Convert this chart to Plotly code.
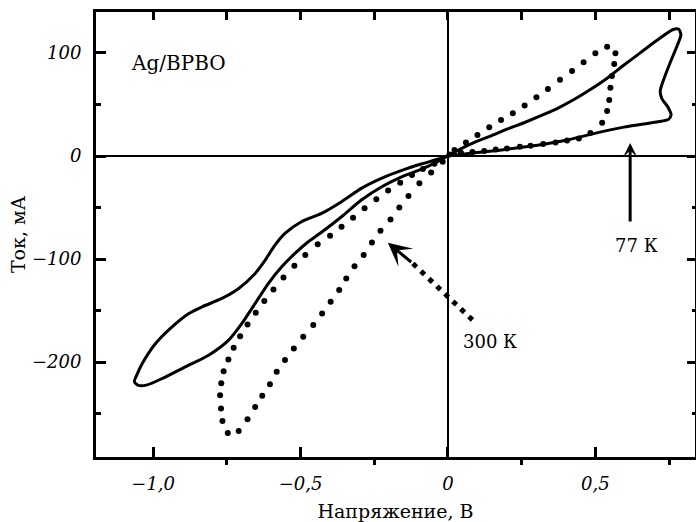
import plotly.graph_objects as go

# ---- 77 K curve (solid loop) ----
v77 = [0, 0.05, 0.10, 0.15, 0.20, 0.25, 0.314, 0.40, 0.483, 0.596, 0.708, 0.748, 0.757, 0.746, 0.725,
       0.72, 0.729, 0.753, 0.776, 0.79, 0.783, 0.762, 0.708, 0.652, 0.596, 0.54, 0.483, 0.426, 0.37,
       0.314, 0.26, 0.20, 0.15, 0.088, 0.04, 0,
       -0.035, -0.091, -0.159, -0.226, -0.294, -0.361, -0.429, -0.474, -0.519, -0.564, -0.609, -0.654,
       -0.699, -0.744, -0.812, -0.891, -0.97, -1.02, -1.05, -1.064, -1.055, -1.037, -0.992, -0.936,
       -0.879, -0.834, -0.767, -0.71, -0.654, -0.62, -0.587, -0.553, -0.497, -0.429, -0.361, -0.294,
       -0.226, -0.159, -0.091, -0.035, 0]
i77 = [0, 1.8, 3.3, 4.8, 6.6, 8.4, 10.9, 15.2, 21, 28, 33, 35.5, 40, 47.5, 56,
       63, 72, 90, 106, 117.5, 123, 122.5, 112, 100, 88, 75.5, 64.5, 54.5, 46,
       39, 32.5, 26, 20, 13, 6.5, 0,
       -5.5, -13, -20.5, -30, -42.7, -58.9, -74, -83.2, -94.5, -107.5, -123.6, -143,
       -162.4, -178.6, -193.2, -204.5, -215.9, -222, -222.5, -219, -212, -201.3, -181.9, -165.7,
       -152.7, -146.3, -138.2, -128.5, -113.9, -101, -86.4, -75, -63.8, -55.7, -44.3, -31.4,
       -21.7, -14.2, -7.8, -3.2, 0]

# ---- 300 K curve (dotted loop, one dot per point) ----
v300 = [0.005, 0.044, 0.083, 0.123, 0.162, 0.20, 0.244, 0.28, 0.323, 0.365, 0.404, 0.444, 0.483,
        0.523, 0.54, 0.547, 0.551, 0.556, 0.564, 0.568, 0.54,
        0.50, 0.46, 0.421, 0.38, 0.339, 0.30, 0.26, 0.22, 0.18, 0.14, 0.10, 0.061, 0.022,
        -0.018, -0.057, -0.097, -0.134, -0.165, -0.195, -0.229, -0.258, -0.286, -0.317, -0.345,
        -0.369, -0.398, -0.427, -0.457, -0.491, -0.523, -0.553, -0.581, -0.604, -0.63, -0.654,
        -0.68, -0.71, -0.747,
        -0.765, -0.77, -0.773, -0.769, -0.761, -0.745, -0.727, -0.705, -0.68, -0.652, -0.623,
        -0.592, -0.558, -0.521, -0.484, -0.442, -0.40, -0.361, -0.322, -0.283, -0.243, -0.203,
        -0.162, -0.122, -0.085, -0.046]
i300 = [1.5, 3.2, 4.0, 4.8, 6.2, 7.4, 9.0, 10.0, 11.7, 13.0, 15.0, 17.0, 22.3,
        32.3, 43.7, 54.4, 66.3, 77.7, 89.3, 99.7, 106,
        99.7, 91, 82.5, 74, 65, 57, 49, 41.4, 35, 28, 20.4, 13, 5.8,
        -5.5, -16, -26.5, -38.8, -50, -61.5, -72.5, -84, -96, -107, -118.8,
        -130, -141.4, -152.7, -164, -175.4, -186.7, -198, -209.4, -221.4, -232.7, -243.4,
        -255.3, -266.7, -268.6,
        -257, -245, -232, -220.5, -208.7, -197.4, -186, -174.8, -163.4, -152, -140.6,
        -129.4, -117.8, -106.5, -96, -85.5, -77.4, -68.6, -59.9, -50.8, -42, -33.5,
        -25.9, -18.4, -12.5, -7.5]

# ---- ticks ----
x_major = [-1.0, -0.5, 0, 0.5]
x_major_text = ["\u22121,0", "\u22120,5", "0", "0,5"]
x_minor = [-0.75, -0.25, 0.25, 0.75]
y_major = [100, 0, -100, -200]
y_major_text = ["100", "0", "\u2212100", "\u2212200"]
y_minor = [50, -50, -150, -250]

x_range = [-1.194, 0.838]
y_range = [-292, 139.7]

FONT = "DejaVu Serif"

fig = go.Figure()
fig.add_trace(go.Scatter(x=v77, y=i77, mode="lines",
                         line=dict(color="black", width=3, shape="spline", smoothing=0.7),
                         showlegend=False, hoverinfo="skip"))
fig.add_trace(go.Scatter(x=v300, y=i300, mode="markers",
                         marker=dict(color="black", size=6),
                         showlegend=False, hoverinfo="skip"))

axis_common = dict(showgrid=False, color="black", linecolor="black", tickcolor="black", automargin=False)

fig.update_layout(
    width=696, height=522,
    margin=dict(l=96, r=1, t=12, b=65),
    paper_bgcolor="white", plot_bgcolor="white",
    font=dict(family=FONT, color="black", size=18),
    xaxis=dict(**axis_common, range=x_range, showline=True, linewidth=3, mirror=True,
               zeroline=True, zerolinecolor="black", zerolinewidth=1.5,
               tickmode="array", tickvals=x_major, ticktext=x_major_text,
               ticks="inside", ticklen=10, tickwidth=2.5, ticklabelstandoff=8,
               tickfont=dict(family=FONT, size=18, style="italic"),
               minor=dict(tickvals=x_minor, ticks="outside", ticklen=5, tickwidth=2.5, tickcolor="black", showgrid=False),
               title=dict(text="Напряжение, В", font=dict(family=FONT, size=19), standoff=16)),
    yaxis=dict(**axis_common, range=y_range, showline=True, linewidth=3, mirror=True,
               zeroline=True, zerolinecolor="black", zerolinewidth=1.5,
               tickmode="array", tickvals=y_major, ticktext=y_major_text,
               ticks="inside", ticklen=10, tickwidth=2.5, ticklabelstandoff=8,
               tickfont=dict(family=FONT, size=18, style="italic"),
               minor=dict(tickvals=y_minor, ticks="inside", ticklen=5, tickwidth=2.5, tickcolor="black", showgrid=False),
               title=dict(text="Ток, мА", font=dict(family=FONT, size=19), standoff=2)),
    xaxis2=dict(**axis_common, range=x_range, overlaying="x", side="top", anchor="y",
                showline=False, zeroline=False, showticklabels=False,
                tickmode="array", tickvals=x_major + x_minor, ticks="inside", ticklen=8, tickwidth=2.5),
    yaxis2=dict(**axis_common, range=y_range, overlaying="y", side="right", anchor="x",
                showline=False, zeroline=False, showticklabels=False,
                tickmode="array", tickvals=y_major, ticks="inside", ticklen=8, tickwidth=2.5,
                minor=dict(tickvals=y_minor, ticks="inside", ticklen=3, tickwidth=2.5, tickcolor="black", showgrid=False)),
)

# dummy trace so overlay axes are active
fig.add_trace(go.Scatter(x=[None], y=[None], xaxis="x2", yaxis="y2", showlegend=False, hoverinfo="skip"))

# labels
fig.add_annotation(x=-0.915, y=90, text="Ag/BPBO", showarrow=False,
                   font=dict(family=FONT, size=20, color="black"))
fig.add_annotation(x=0.641, y=-86.4, text="77 К", showarrow=False,
                   font=dict(family=FONT, size=18, color="black"))
fig.add_annotation(x=0.142, y=-180, text="300 К", showarrow=False,
                   font=dict(family=FONT, size=18, color="black"))

# 77 K arrow (solid)
fig.add_annotation(x=0.618, y=12.6, ax=0.618, ay=-65, axref="x", ayref="y", xref="x", yref="y",
                   text="", showarrow=True, arrowhead=3, arrowwidth=3, arrowsize=0.8, arrowcolor="black")
# 300 K arrow (dotted shaft + head)
fig.add_shape(type="line", x0=0.083, y0=-159, x1=-0.12, y1=-104, xref="x", yref="y",
              line=dict(color="black", width=5, dash="5px,6px"))
fig.add_annotation(x=-0.204, y=-84.2, ax=-0.12, ay=-104, axref="x", ayref="y", xref="x", yref="y",
                   text="", showarrow=True, arrowhead=3, arrowwidth=3, arrowsize=1.3, arrowcolor="black")

fig.write_html("out.html", config={"displayModeBar": False},
               post_script="document.body.style.margin='0';document.body.style.overflow='hidden';")
